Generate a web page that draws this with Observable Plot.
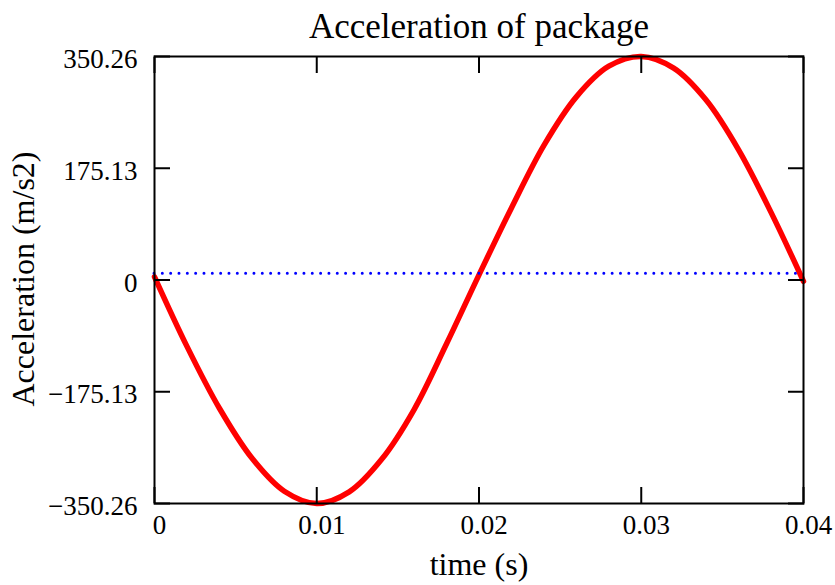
<!DOCTYPE html>
<html>
<head>
<meta charset="utf-8">
<script src="https://cdn.jsdelivr.net/npm/d3@7"></script>
<script src="https://cdn.jsdelivr.net/npm/@observablehq/plot@0.6"></script>
<style>
  html, body { margin: 0; padding: 0; background: #fff; }
</style>
</head>
<body>
<div id="chart"></div>
<script>
const titleText = "Acceleration of package";
const xLabel = "time (s)";
const yLabel = "Acceleration (m/s2)";

const time = [0, 0.002, 0.004, 0.006, 0.008, 0.010, 0.012, 0.014, 0.016, 0.018, 0.020,
              0.022, 0.024, 0.026, 0.028, 0.030, 0.032, 0.034, 0.036, 0.038, 0.040];
const accel = [5, -104, -201, -279, -331, -350.26, -332, -281, -203, -100, 8,
               113, 211, 287, 335, 350.26, 332, 282, 204, 106, -2];
const refLevel = [10.5];

const xTicks = [0, 0.01, 0.02, 0.03, 0.04];
const xTickLabels = ["0", "0.01", "0.02", "0.03", "0.04"];
const yTicks = [-350.26, -175.13, 0, 175.13, 350.26];
const yTickLabels = ["\u2212350.26", "\u2212175.13", "0", "175.13", "350.26"];

const data = time.map((t, i) => ({t, a: accel[i]}));
const xLab = new Map(xTicks.map((d, i) => [d, xTickLabels[i]]));
const yLab = new Map(yTicks.map((d, i) => [d, yTickLabels[i]]));

const chart = Plot.plot({
  width: 835,
  height: 585,
  marginLeft: 154,
  marginRight: 32,
  marginTop: 56,
  marginBottom: 82,
  style: {fontFamily: "'Liberation Serif', 'DejaVu Serif', serif", fontSize: "27px", color: "black", background: "white"},
  x: {domain: [0, 0.04]},
  y: {domain: [-350.26, 350.26]},
  marks: [
    Plot.line(data, {x: "t", y: "a", stroke: "#ff0000", strokeWidth: 5.5, curve: "catmull-rom"}),
    Plot.ruleY(refLevel, {stroke: "#0000ff", strokeWidth: 3, strokeDasharray: "0,8.33", strokeLinecap: "round"}),
    Plot.frame({stroke: "black", strokeWidth: 2}),
    // inward ticks
    Plot.axisY(yTicks, {anchor: "left", tickSize: 16, dx: 16, text: null, label: null, strokeWidth: 2}),
    Plot.axisY(yTicks, {anchor: "right", tickSize: 16, dx: -16, text: null, label: null, strokeWidth: 2}),
    Plot.axisX(xTicks, {anchor: "bottom", tickSize: 16, dy: -16, text: null, label: null, strokeWidth: 2}),
    Plot.axisX(xTicks, {anchor: "top", tickSize: 16, dy: 16, text: null, label: null, strokeWidth: 2}),
    // tick labels
    Plot.axisY(yTicks, {anchor: "left", tickSize: 0, tickPadding: 17, dy: 3, fontSize: 27, label: null, tickFormat: d => yLab.get(d)}),
    Plot.axisX(xTicks, {anchor: "bottom", tickSize: 0, tickPadding: 11, dx: 5, fontSize: 27, label: null, tickFormat: d => xLab.get(d)}),
    // titles
    Plot.text([titleText], {frameAnchor: "top", dy: -19, lineAnchor: "bottom", textAnchor: "middle", fontSize: 35, fill: "black"}),
    Plot.text([xLabel], {frameAnchor: "bottom", dy: 71, lineAnchor: "bottom", textAnchor: "middle", fontSize: 32, fill: "black"}),
    Plot.text([yLabel], {frameAnchor: "left", dx: -121, dy: -1, rotate: -90, lineAnchor: "bottom", textAnchor: "middle", fontSize: 32, fill: "black"})
  ]
});
document.getElementById("chart").appendChild(chart);
</script>
</body>
</html>
